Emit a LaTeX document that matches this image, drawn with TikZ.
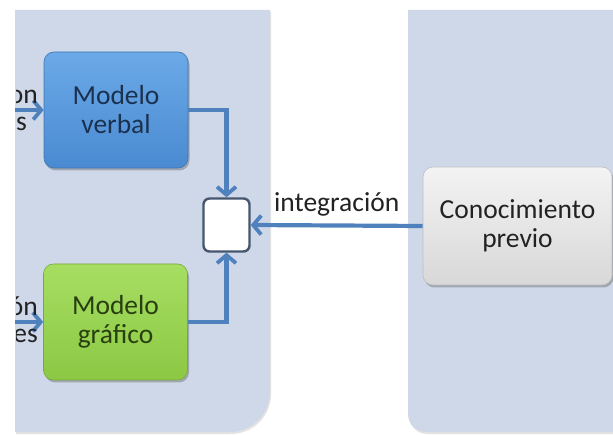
\documentclass[tikz,border=0pt]{standalone}
\usepackage{fontspec}
\setmainfont{Carlito}
\usetikzlibrary{arrows.meta,shadows}

\definecolor{panelfill}{HTML}{CFD8E8}
\definecolor{linkblue}{HTML}{4F81BD}
\definecolor{verbaltop}{HTML}{6BA9E8}
\definecolor{verbalbot}{HTML}{4A8AD0}
\definecolor{verbaltext}{HTML}{1A3150}
\definecolor{graftop}{HTML}{A6DE62}
\definecolor{grafbot}{HTML}{8CC844}
\definecolor{graftext}{HTML}{283F10}
\definecolor{greytop}{HTML}{F3F3F3}
\definecolor{greybot}{HTML}{D8D8D8}
\definecolor{inktext}{HTML}{222222}
\definecolor{squareedge}{HTML}{45566E}

\tikzset{
  x=1pt, y=-1pt,
  boxtext/.style={font=\fontsize{27.5}{29}\selectfont, align=center},
  modelbox/.style={boxtext, rounded corners=10pt, minimum width=144pt,
    minimum height=116pt, inner sep=0pt,
    drop shadow={shadow xshift=1.5pt, shadow yshift=-2.5pt, opacity=0.35, fill=black!70}},
  verbalbox/.style={modelbox, top color=verbaltop, bottom color=verbalbot,
    draw=verbalbot!85!black, line width=0.6pt, text=verbaltext},
  grafbox/.style={modelbox, top color=graftop, bottom color=grafbot,
    draw=grafbot!85!black, line width=0.6pt, text=graftext},
  priorbox/.style={boxtext, rounded corners=10pt, minimum width=189pt,
    minimum height=118pt, inner sep=0pt, top color=greytop, bottom color=greybot,
    draw=black!25, line width=0.6pt, text=inktext,
    drop shadow={shadow xshift=1.5pt, shadow yshift=-2.5pt, opacity=0.35, fill=black!70}},
  joinbox/.style={rounded corners=6pt, minimum width=46pt, minimum height=53pt,
    inner sep=0pt, fill=white, draw=squareedge, line width=2.4pt},
  link/.style={draw=linkblue, line width=4.2pt,
    -{Straight Barb[length=8pt, width=19pt, line width=3.8pt]}},
  label/.style={font=\fontsize{27.5}{29}\selectfont, text=inktext, inner sep=0pt},
  panelshade/.style={fill=panelfill,
    drop shadow={shadow xshift=1pt, shadow yshift=-2pt, opacity=0.18, fill=black!60}}
}

\begin{document}
\begin{tikzpicture}
\useasboundingbox (0,0) rectangle (613,435);
\fill[white] (0,0) rectangle (613,435);

% background panels
\path[panelshade] (15,10) -- (270,10) -- (270,392)
  arc[start angle=0, end angle=90, radius=40] -- (15,432) -- cycle;
\path[panelshade] (408,10) -- (613,10) -- (613,432) -- (426,432)
  arc[start angle=90, end angle=180, radius=18] -- cycle;

% boxes
\node[verbalbox] (verbal) at (116,110) {Modelo\\verbal};
\node[grafbox] (grafico) at (115.5,322) {Modelo\\gráfico};
\node[priorbox] (previo) at (517.5,226) {Conocimiento\\previo};
\node[joinbox] (join) at (226.5,225) {};

% incoming arrows from the left edge
\coordinate (inverbal) at (15,110);
\coordinate (ingraf) at (15,322);
\draw[link] (inverbal) -- (verbal.west);
\draw[link] (ingraf) -- (grafico.west);

% cut-off captions at the left edge
\begin{scope}
  \clip (16,0) rectangle (60,435);
  \node[label, anchor=base east] (capa) at (38,104) {on};
  \node[label, anchor=base east] (capb) at (27,131) {s};
  \node[label, anchor=base east] (capc) at (38,316) {ón};
  \node[label, anchor=base east] (capd) at (38,343) {es};
\end{scope}

% connectors into the integration square
\draw[link] (verbal.east) -| (join.north);
\draw[link] (grafico.east) -| (join.south);
\draw[link] (previo.west) -- node[label, above=7pt] (integ) {integración} (join.east);
\end{tikzpicture}
\end{document}
